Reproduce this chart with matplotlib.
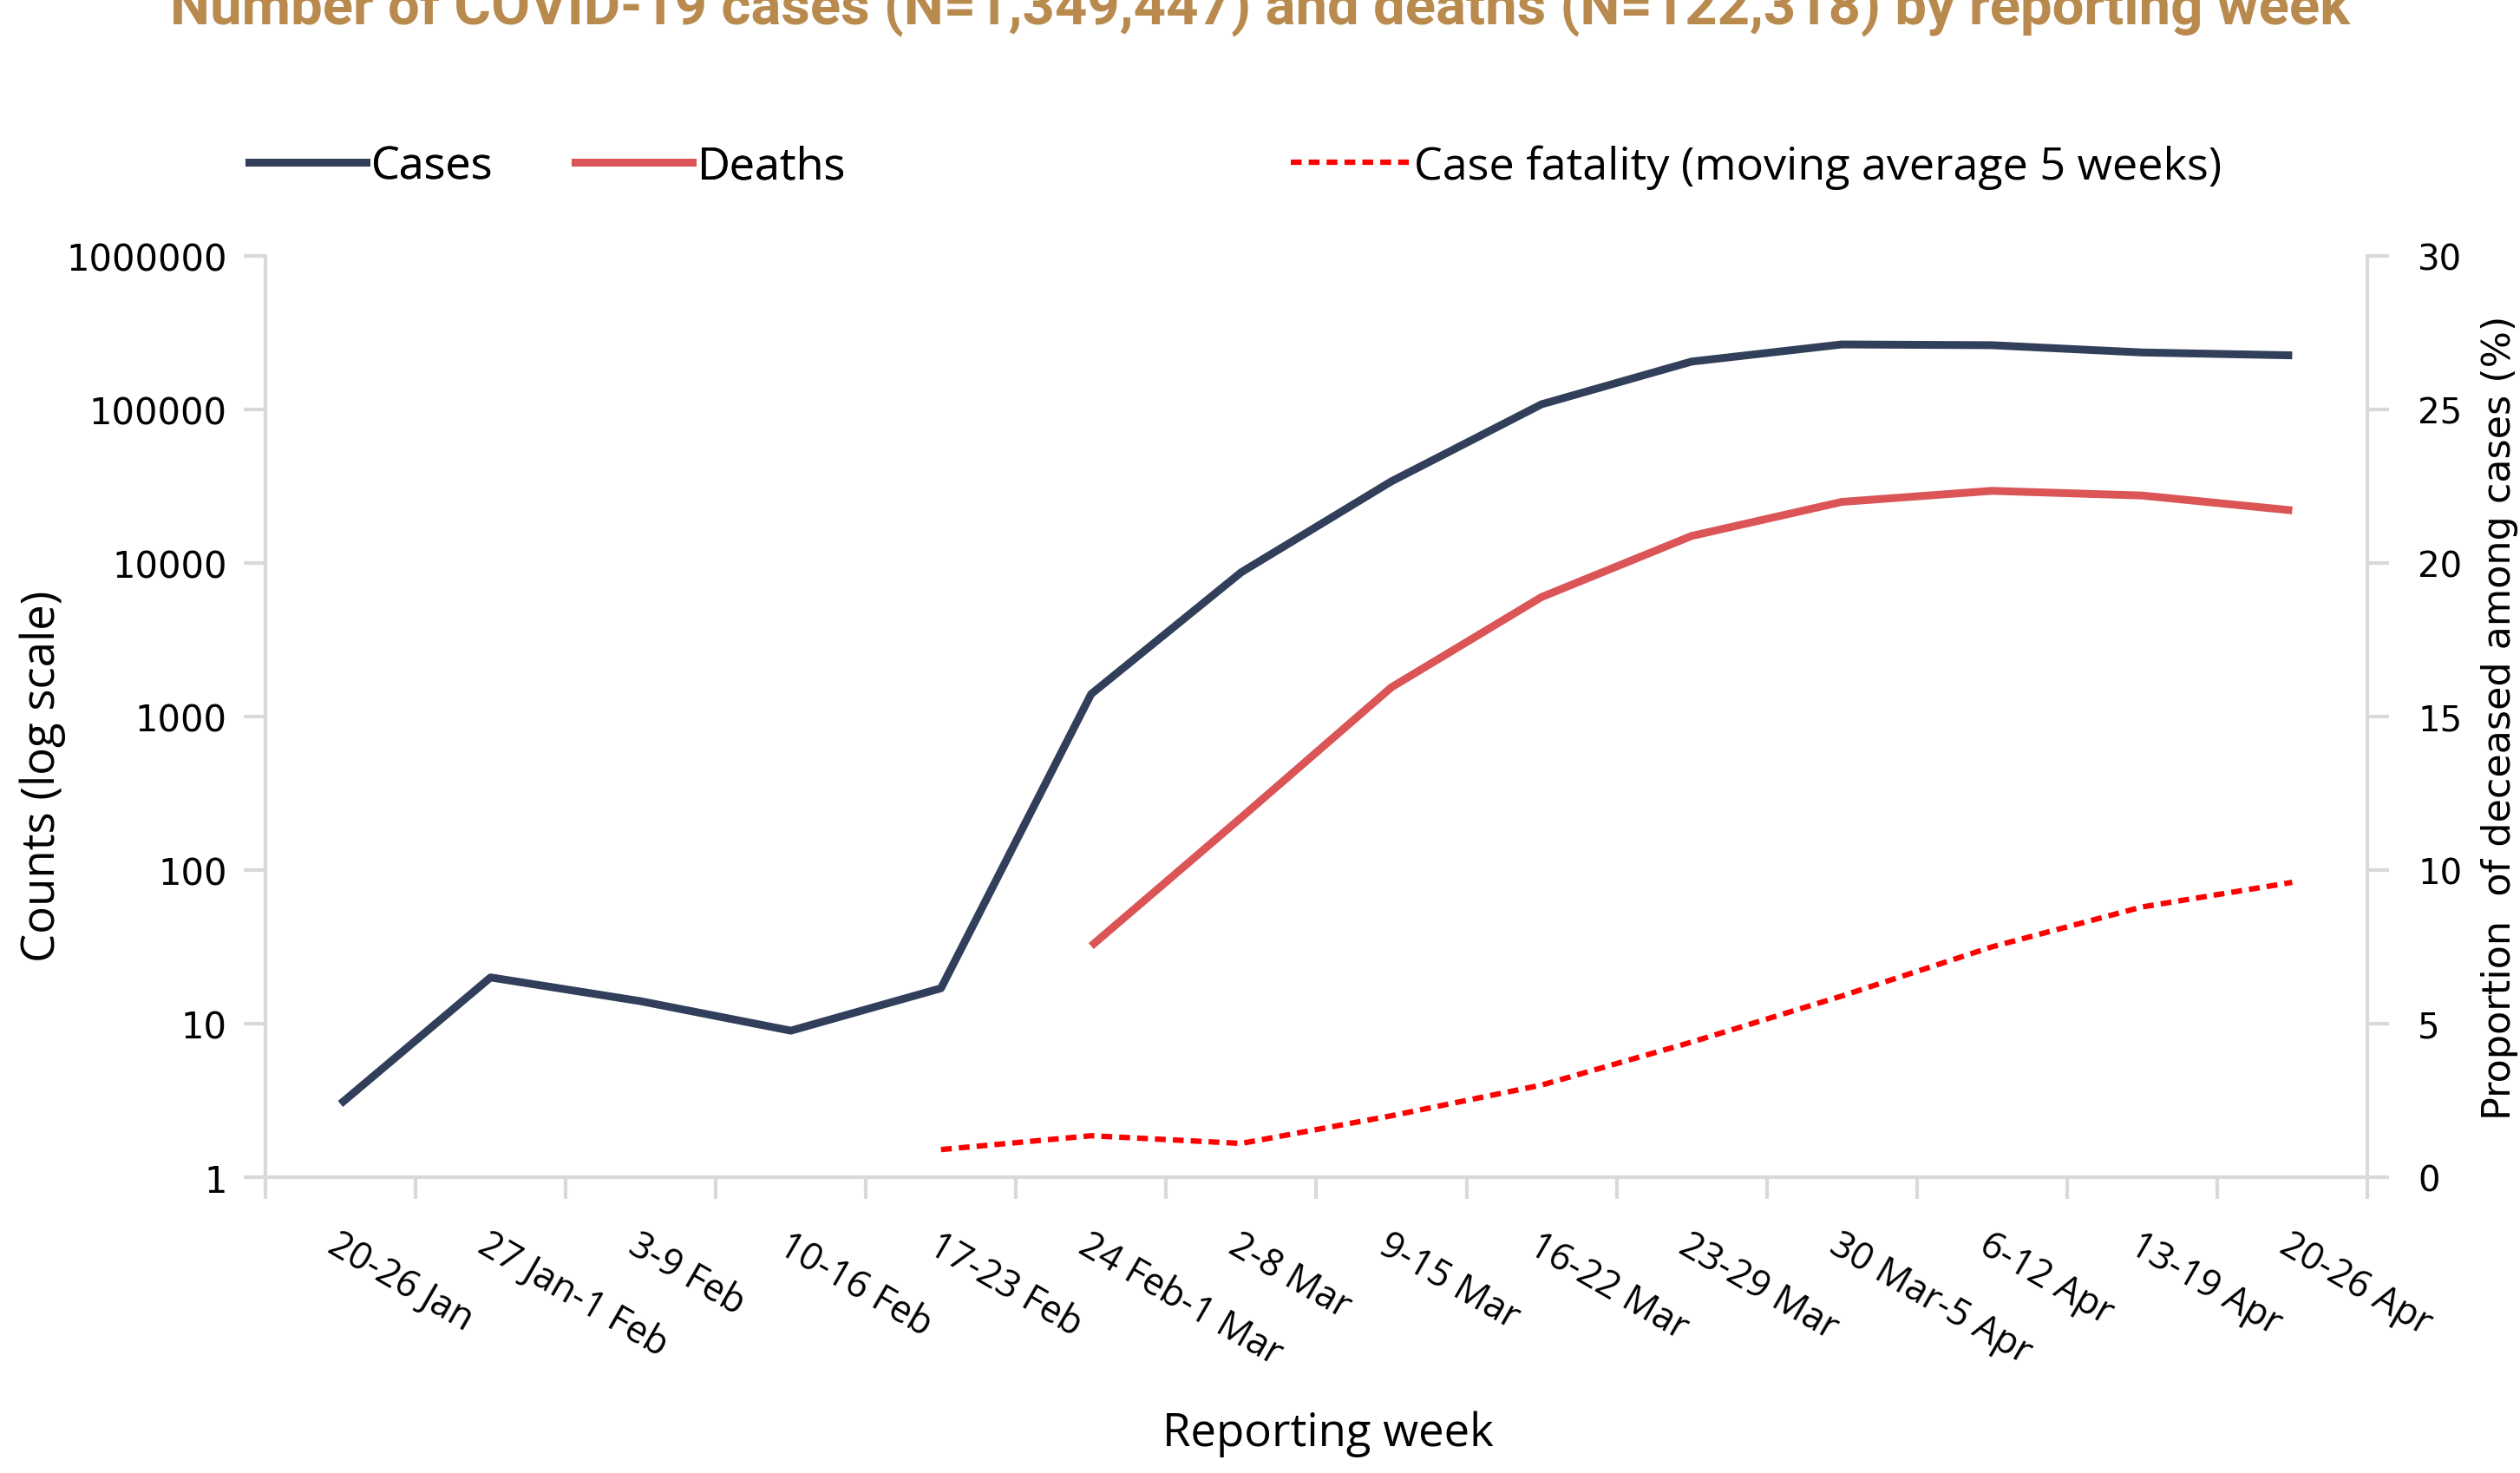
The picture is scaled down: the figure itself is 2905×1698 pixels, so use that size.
import matplotlib
matplotlib.use('Agg')
import matplotlib.pyplot as plt
from matplotlib.lines import Line2D
from matplotlib.ticker import FixedLocator, NullLocator

weeks = ['20-26 Jan', '27 Jan-1 Feb', '3-9 Feb', '10-16 Feb', '17-23 Feb',
         '24 Feb-1 Mar', '2-8 Mar', '9-15 Mar', '16-22 Mar', '23-29 Mar',
         '30 Mar-5 Apr', '6-12 Apr', '13-19 Apr', '20-26 Apr']

cases = [3, 20, 14, 9, 17, 1400, 8700, 34000, 108000, 205000,
         265000, 262000, 235000, 225000]

# deaths start at week 6 (24 Feb-1 Mar)
deaths_weeks = weeks[5:]
deaths = [32, 220, 1550, 6000, 15000, 25000, 29500, 27500, 22000]

# case fatality (%) starts at 17-23 Feb
cfr_weeks = weeks[4:]
cfr = [0.9, 1.35, 1.1, 2.0, 3.0, 4.4, 5.9, 7.5, 8.8, 9.6]

log_ticks = [1, 10, 100, 1000, 10000, 100000, 1000000]
pct_ticks = [0, 5, 10, 15, 20, 25, 30]

c_cases = '#323F5B'
c_deaths = '#DB5456'
c_cfr = '#FF0000'
c_axis = '#D9D9D9'

calibri = ['Open Sans', 'DejaVu Sans']
verdana = ['DejaVu Sans']
dash = (0, (2.0, 1.3))

fig = plt.figure(figsize=(29.05, 16.99), dpi=100)
ax = fig.add_axes([0.1053, 0.2007, 0.8341, 0.6251])
ax2 = ax.twinx()

x = list(range(len(weeks)))
xd = [weeks.index(w) for w in deaths_weeks]
xc = [weeks.index(w) for w in cfr_weeks]

ax.plot(x, cases, color=c_cases, lw=6.5, solid_capstyle='butt', solid_joinstyle='round', zorder=3)
ax.plot(xd, deaths, color=c_deaths, lw=6.5, solid_capstyle='butt', solid_joinstyle='round', zorder=3)
ax2.plot(xc, cfr, color=c_cfr, lw=4.5, ls=dash, zorder=3)

ax.set_yscale('log')
ax.set_ylim(1, 1000000)
ax.yaxis.set_major_locator(FixedLocator(log_ticks))
ax.yaxis.set_minor_locator(NullLocator())
ax.set_yticklabels([str(v) for v in log_ticks], fontfamily=verdana, fontsize=30)

ax2.set_ylim(0, 30)
ax2.set_yticks(pct_ticks)
ax2.set_yticklabels([str(v) for v in pct_ticks], fontfamily=verdana, fontsize=29)

ax.set_xlim(-0.5, len(weeks) - 0.5)
ax.set_xticks([i - 0.5 for i in range(len(weeks) + 1)])
ax.set_xticklabels([])
ax.set_xticks(x, minor=True)
ax.set_xticklabels(weeks, minor=True, rotation=-30, ha='left', va='top',
                   rotation_mode='anchor', fontfamily=calibri, fontsize=31)
ax.tick_params(axis='x', which='minor', length=0, pad=40)
ax.tick_params(axis='x', which='major', length=18, width=3, color=c_axis)
ax.tick_params(axis='y', length=18, width=3, color=c_axis, pad=14)
ax2.tick_params(axis='y', length=18, width=3, color=c_axis, pad=24)

for a in (ax, ax2):
    for s in a.spines.values():
        s.set_visible(False)
    a.spines['left'].set_visible(a is ax)
    a.spines['right'].set_visible(a is ax2)
    a.spines['bottom'].set_visible(a is ax)
    for s in ('left', 'right', 'bottom'):
        a.spines[s].set_color(c_axis)
        a.spines[s].set_linewidth(3)

ax.set_xlabel('Reporting week', fontfamily=calibri, fontsize=38)
ax.xaxis.label.set_va('center')
ax.xaxis.set_label_coords(0.5056, -0.278)
ax.set_ylabel('Counts (log scale)', fontfamily=calibri, fontsize=38)
ax.yaxis.label.set_va('center')
ax.yaxis.set_label_coords(-0.106, 0.436)
ax2.set_ylabel('Proportion  of deceased among cases (%)', fontfamily=verdana,
               fontsize=32)
ax2.yaxis.label.set_va('center')
ax2.yaxis.set_label_coords(1.063, 0.5)

fig.text(0.5, 0.984, 'Number of COVID-19 cases (N=1,349,447) and deaths (N=122,318) by reporting week',
         ha='center', va='baseline', fontfamily=['Roboto', 'DejaVu Sans'],
         fontweight='bold', fontsize=47, color='#B98A4E')

leg_font = {'family': calibri, 'size': 37.5}
h1 = [Line2D([], [], color=c_cases, lw=6.5), Line2D([], [], color=c_deaths, lw=6.5)]
leg1 = ax.legend(h1, ['Cases', 'Deaths'], loc='center left', bbox_to_anchor=(-0.008, 1.097),
                 ncol=2, frameon=False, prop=leg_font,
                 handlelength=2.6, handletextpad=0.12, columnspacing=1.8,
                 borderaxespad=0, borderpad=0)
ax.add_artist(leg1)
h2 = [Line2D([], [], color=c_cfr, lw=4.5, ls=dash)]
ax2.legend(h2, ['Case fatality (moving average 5 weeks)'], loc='center left',
           bbox_to_anchor=(0.488, 1.097), frameon=False, prop=leg_font,
           handlelength=2.6, handletextpad=0.12, borderaxespad=0, borderpad=0)

fig.savefig('out.png', dpi=100)
